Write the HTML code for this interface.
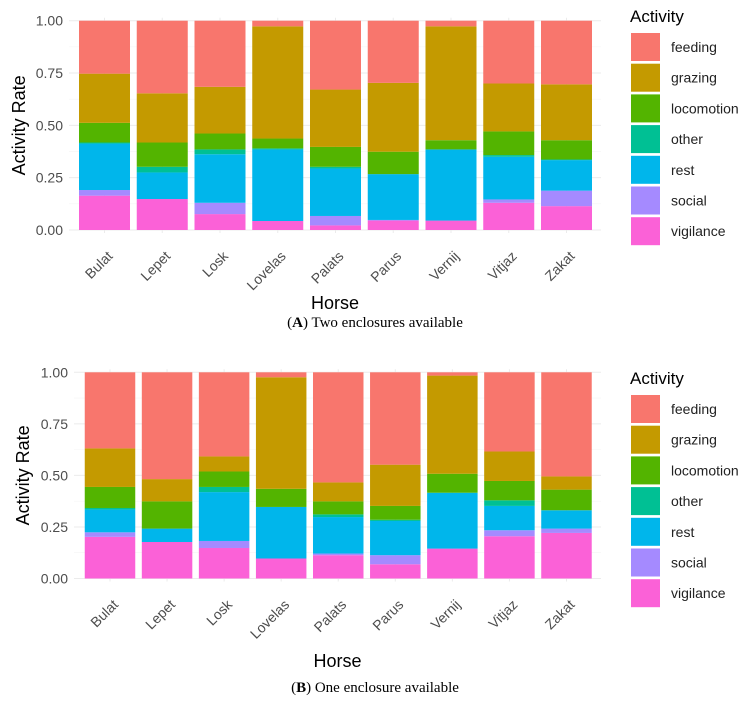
<!DOCTYPE html>
<html><head><meta charset="utf-8"><style>
html,body{margin:0;padding:0;background:#fff;}
svg{display:block;font-family:"Liberation Sans",sans-serif;}
</style></head><body>
<svg id="c" width="751" height="708" viewBox="0 0 751 708"></svg>
<script>
const horses = ["Bulat","Lepet","Losk","Lovelas","Palats","Parus","Vernij","Vitjaz","Zakat"];
const activities = ["vigilance","social","rest","other","locomotion","grazing","feeding"];
const legendOrder = ["feeding","grazing","locomotion","other","rest","social","vigilance"];
const colors = {feeding:"#F8766D",grazing:"#C49A00",locomotion:"#53B400",other:"#00C094",rest:"#00B6EB",social:"#A58AFF",vigilance:"#FB61D7"};
const yTicks = [0,0.25,0.5,0.75,1];
const yTickLabels = ["0.00","0.25","0.50","0.75","1.00"];
// Panel A values per activity (bottom to top order)
const aVigilance = [.164,.148,.076,.043,.022,.045,.045,.130,.114];
const aSocial = [.027,0,.054,0,.045,.003,0,.016,.074];
const aRest = [.222,.127,.232,.342,.227,.219,.340,.204,.146];
const aOther = [.005,.027,.023,.005,.008,0,0,.008,.003];
const aLocomotion = [.094,.116,.076,.047,.095,.107,.044,.113,.092];
const aGrazing = [.235,.235,.223,.536,.274,.329,.544,.229,.267];
const aFeeding = [.253,.347,.316,.027,.329,.297,.027,.300,.304];
// Panel B values
const bVigilance = [.202,.177,.148,.097,.113,.069,.145,.205,.221];
const bSocial = [.022,0,.034,0,.008,.044,0,.029,.021];
const bRest = [.111,.065,.237,.250,.177,.166,.271,.118,.089];
const bOther = [.007,0,.025,0,.013,.006,0,.027,0];
const bLocomotion = [.102,.132,.075,.088,.063,.067,.092,.094,.100];
const bGrazing = [.187,.108,.073,.541,.092,.200,.476,.143,.064];
const bFeeding = [.369,.518,.408,.024,.534,.448,.016,.384,.505];

const NS="http://www.w3.org/2000/svg";
const svg=document.getElementById('c');
function mk(tag,attrs,parent,text){const e=document.createElementNS(NS,tag);for(const k in attrs)e.setAttribute(k,attrs[k]);if(text!==undefined)e.textContent=text;(parent||svg).appendChild(e);return e;}

function panel(id,series,y0,y1,firstC,step,bw,left,right,titleX,legY,horseY,capY,capBold,capText){
  const g=mk('g',{});
  
  
  const yS=v=>y0+(y1-y0)*v;
  const xS=i=>firstC+i*step;
  for(let k=0;k<yTicks.length;k++){
    const yy=yS(yTicks[k]);
    const gl=mk('line',{x1:left,x2:right,y1:yy,y2:yy,stroke:'#ebebeb','stroke-width':1},g);
    
    
    if(k<yTicks.length-1){const ym=yS((yTicks[k]+yTicks[k+1])/2);
      const gm=mk('line',{x1:left,x2:right,y1:ym,y2:ym,stroke:'#f4f4f4','stroke-width':0.6},g);
      
      }
    const t=mk('text',{x:left-6,y:yy+5,'text-anchor':'end','font-size':14,fill:'#4d4d4d'},g,yTickLabels[k]);
    
    
  }
  for(let i=0;i<horses.length;i++){
    const vl=mk('line',{x1:xS(i),x2:xS(i),y1:y1-3,y2:y0+3,stroke:'#ebebeb','stroke-width':1},g);
    
    
  }
  for(let i=0;i<horses.length;i++){
    let cum=0;
    for(let a=0;a<activities.length;a++){
      const v=series[a][i];
      if(v<=0){continue;}
      const top=yS(Math.min(1,cum+v)),bot=yS(cum);
      const r=mk('rect',{x:xS(i)-bw/2,y:top,width:bw,height:Math.max(0,bot-top),fill:colors[activities[a]]},g);
      
      
      cum+=v;
    }
    const lx=xS(i)+9,ly=y0+27;
    const t=mk('text',{x:lx,y:ly,'text-anchor':'end','font-size':14,fill:'#4d4d4d',transform:`rotate(-45 ${lx} ${ly})`},g,horses[i]);
    
    
  }
  const yt=mk('text',{x:0,y:0,'text-anchor':'middle','font-size':18,fill:'#000',transform:`translate(${titleX} ${(y0+y1)/2}) rotate(-90)`},g,'Activity Rate');
  
  
  const xt=mk('text',{x:(left+right)/2,y:horseY,'text-anchor':'middle','font-size':18,fill:'#000'},g,'Horse');
  
  
  const lg=mk('g',{},g);
  
  
  const lt=mk('text',{x:630,y:legY,'font-size':17,fill:'#000'},lg,'Activity');
  
  
  for(let k=0;k<legendOrder.length;k++){
    const ky=legY+11+k*30.7;
    const kr=mk('rect',{x:631,y:ky,width:29,height:28,fill:colors[legendOrder[k]]},lg);
    
    
    const kt=mk('text',{x:671,y:ky+19,'font-size':14,fill:'#222'},lg,legendOrder[k]);
    
    
  }
  const cap=mk('text',{x:375,y:capY,'text-anchor':'middle','font-size':15,fill:'#000','font-family':'"Liberation Serif",serif'},g);
  
  
  mk('tspan',{},cap,'(');
  mk('tspan',{'font-weight':'bold'},cap,capBold);
  mk('tspan',{},cap,') '+capText);
}
panel('a',[aVigilance,aSocial,aRest,aOther,aLocomotion,aGrazing,aFeeding],230,20.7,104.5,57.75,51,69,601,25,22,309,327,'A','Two enclosures available');
panel('b',[bVigilance,bSocial,bRest,bOther,bLocomotion,bGrazing,bFeeding],578.5,372.3,110,57.06,50.5,74,601,29,384,667,692,'B','One enclosure available');
</script>
</body></html>
